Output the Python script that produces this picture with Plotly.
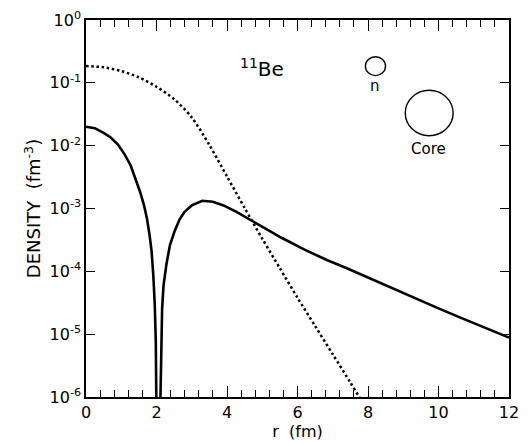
import plotly.graph_objects as go

# Halo neutron density (solid)
r_halo = [0.0, 0.25, 0.5, 0.7, 0.9, 1.1, 1.27, 1.4, 1.54, 1.65, 1.73, 1.8, 1.86, 1.91, 1.95, 1.98,
          2.01, 2.035, 2.06, 2.085, 2.11, 2.13, 2.16, 2.2, 2.28, 2.38, 2.51, 2.65, 2.79, 3.0, 3.3,
          3.6, 3.9, 4.27, 4.68, 5.1, 5.56, 6.2, 6.85, 7.4, 7.87, 8.5, 9.25, 10.0, 10.64, 11.3, 12.0]
rho_halo = [0.020, 0.019, 0.016, 0.0135, 0.0105, 0.0072, 0.0048, 0.0031, 0.0018, 0.0011, 6.9e-4,
            3.9e-4, 2.1e-4, 8.5e-5, 3.0e-5, 7.5e-6,
            1.5e-6, 1.5e-7, 1e-10, 1.5e-7, 1.5e-6, 6.3e-6, 2.6e-5, 6.0e-5, 1.28e-4, 2.6e-4, 4.3e-4,
            6.6e-4, 8.8e-4, 1.12e-3, 1.33e-3, 1.28e-3, 1.12e-3, 8.81e-4, 6.46e-4, 4.73e-4, 3.39e-4,
            2.21e-4, 1.50e-4, 1.12e-4, 8.55e-5, 5.96e-5, 3.89e-5, 2.57e-5, 1.82e-5, 1.28e-5, 8.8e-6]

# Core density (dotted)
r_core = [0.0, 0.5, 1.0, 1.5, 2.0, 2.5, 3.0, 3.5, 4.0, 4.5, 5.0, 5.5, 6.0, 6.5, 7.0, 7.5, 7.75, 7.9]
rho_core = [0.185, 0.1766, 0.1538, 0.1222, 0.0865, 0.055, 0.0282, 0.01023, 3.24e-3, 1.02e-3,
            3.31e-4, 1.12e-4, 3.8e-5, 1.35e-5, 4.79e-6, 1.70e-6, 1.0e-6, 7.3e-7]

y_tickvals = [1e0, 1e-1, 1e-2, 1e-3, 1e-4, 1e-5, 1e-6]
y_ticktext = ["10<sup>0</sup>", "10<sup>-1</sup>", "10<sup>-2</sup>", "10<sup>-3</sup>",
              "10<sup>-4</sup>", "10<sup>-5</sup>", "10<sup>-6</sup>"]

FONT = "DejaVu Sans, Liberation Sans, Arial, sans-serif"

fig = go.Figure()
fig.add_trace(go.Scatter(x=r_core, y=rho_core, mode="lines",
                         line=dict(color="black", width=2.5, dash="2.5px,2.7px", shape="spline",
                                   smoothing=0.8),
                         showlegend=False, hoverinfo="skip"))
fig.add_trace(go.Scatter(x=r_halo, y=rho_halo, mode="lines",
                         line=dict(color="black", width=2.6),
                         showlegend=False, hoverinfo="skip"))

fig.update_layout(
    width=528, height=446,
    margin=dict(l=86, r=9, t=16, b=49),
    paper_bgcolor="white", plot_bgcolor="white",
    font=dict(family=FONT, size=16, color="black"),
    xaxis=dict(range=[0, 12], tickmode="linear", tick0=0, dtick=2,
               ticks="inside", ticklen=11, tickwidth=1.2, tickcolor="black",
               showline=True, linecolor="black", linewidth=1.5, mirror="allticks",
               showgrid=False, zeroline=False,
               minor=dict(dtick=0.4, ticks="inside", ticklen=7,
                          tickwidth=1.2, tickcolor="black", showgrid=False),
               title=dict(text="r  (fm)", font=dict(size=16), standoff=4),
               tickfont=dict(size=16)),
    yaxis=dict(type="log", range=[-6, 0], tickmode="array", tickvals=y_tickvals,
               ticktext=y_ticktext,
               ticks="inside", ticklen=9, tickwidth=1.2, tickcolor="black",
               showline=True, linecolor="black", linewidth=1.5, mirror="allticks",
               showgrid=False, zeroline=False,
               title=dict(text="DENSITY  (fm<sup>-3</sup>)", font=dict(size=18), standoff=4),
               tickfont=dict(size=16)),
)

# 11Be label
fig.add_annotation(text="<sup>11</sup>Be", xref="paper", yref="paper",
                   x=(266 - 86) / 433, y=(397 - 65) / 381, showarrow=False,
                   font=dict(size=20, family=FONT), xanchor="center", yanchor="middle")

# neutron and core circles (paper coordinates)
def circ(cx, cy, rx, ry):
    return dict(type="circle", xref="paper", yref="paper",
                x0=(cx - rx - 86) / 433, x1=(cx + rx - 86) / 433,
                y0=(397 - (cy + ry)) / 381, y1=(397 - (cy - ry)) / 381,
                line=dict(color="black", width=1.4))

fig.add_shape(circ(382.3, 62.7, 10.3, 9.5))
fig.add_shape(circ(437.3, 110.0, 24.5, 23.0))
fig.add_annotation(text="n", xref="paper", yref="paper",
                   x=(382 - 86) / 433, y=(397 - 83) / 381, showarrow=False,
                   font=dict(size=15, family=FONT), xanchor="center", yanchor="middle")
fig.add_annotation(text="Core", xref="paper", yref="paper",
                   x=(437 - 86) / 433, y=(397 - 146) / 381, showarrow=False,
                   font=dict(size=15, family=FONT), xanchor="center", yanchor="middle")

fig.write_html("out.html")
